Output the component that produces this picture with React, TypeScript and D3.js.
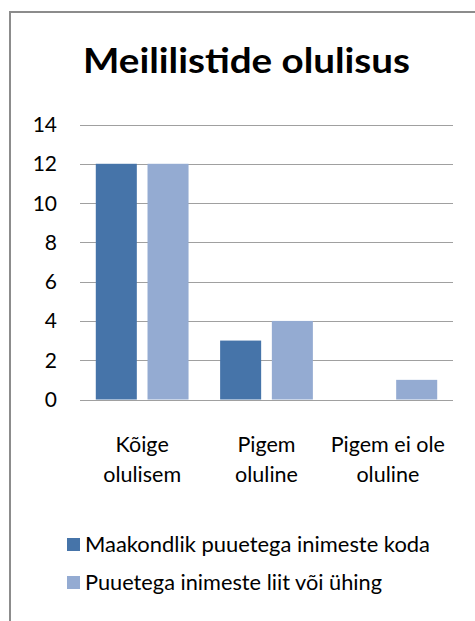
import React from "react";
import * as d3 from "d3";

const categories: string[][] = [["Kõige", "olulisem"], ["Pigem", "oluline"], ["Pigem ei ole", "oluline"]];
const seriesNames = ["Maakondlik puuetega inimeste koda", "Puuetega inimeste liit või ühing"];
const seriesA = [12, 3, 0];
const seriesB = [12, 4, 1];
const yTicks = [0, 2, 4, 6, 8, 10, 12, 14];
const title = "Meililistide olulisus";

const colors = ["#4674A9", "#94ABD2"];
const FONT = "Lato, 'Liberation Sans', sans-serif";
const legendLens = [345, 297];

export default function App() {
  const W = 475, H = 621;
  const left = 80, right = 453, top = 124.5, bottom = 399.5;
  const x = d3.scaleBand<number>().domain(d3.range(categories.length)).range([left, right]).padding(0);
  const y = d3.scaleLinear().domain([0, 14]).range([bottom, top]);
  const bw = x.bandwidth();
  const barW = bw * 0.33;
  const gap = bw * 0.086;
  const series = [seriesA, seriesB];

  return (
    <svg width={W} height={H} style={{ position: "absolute", left: 0, top: 0, background: "#fff" }}>
      <rect x={0} y={0} width={W} height={H} fill="#fff" />
      <line x1={10} y1={12} x2={W} y2={12} stroke="#8c8c8c" strokeWidth={2} />
      <line x1={10} y1={11} x2={10} y2={H} stroke="#8c8c8c" strokeWidth={2} />
      <text x={83} y={73} fontFamily={FONT} fontWeight="bold" fontSize={35} fill="#000" textLength={327} lengthAdjust="spacingAndGlyphs">{title}</text>
      {yTicks.map((t) => (
        <g key={t}>
          <line x1={left} x2={right} y1={Math.round(y(t)) + 0.5} y2={Math.round(y(t)) + 0.5} stroke="#a0a0a0" strokeWidth={1} />
          <text x={57} y={y(t) + 7.5} textAnchor="end" fontFamily={FONT} fontSize={21} fill="#000">{t}</text>
        </g>
      ))}
      {series.map((vals, si) =>
        vals.map((v, ci) => {
          const cx = (x(ci) as number) + bw / 2;
          const groupW = barW * 2 + gap;
          const bx = cx - groupW / 2 + si * (barW + gap);
          return v > 0 ? (
            <rect key={`${si}-${ci}`} x={bx} y={y(v)} width={barW} height={y(0) - y(v)} fill={colors[si]} />
          ) : null;
        })
      )}
      {categories.map((lines, ci) => (
        <text key={ci} textAnchor="middle" fontFamily={FONT} fontSize={21.5} fill="#000">
          {lines.map((l, li) => (
            <tspan key={li} x={(x(ci) as number) + bw / 2 - (ci === 2 ? 3 : 0)} y={451.5 + li * 30}>{l}</tspan>
          ))}
        </text>
      ))}
      {seriesNames.map((name, si) => (
        <g key={name}>
          <rect x={67} y={538 + si * 38} width={13} height={13} fill={colors[si]} />
          <text x={85} y={551.5 + si * 38} fontFamily={FONT} fontSize={21} fill="#000" textLength={legendLens[si]} lengthAdjust="spacingAndGlyphs">{name}</text>
        </g>
      ))}
    </svg>
  );
}
